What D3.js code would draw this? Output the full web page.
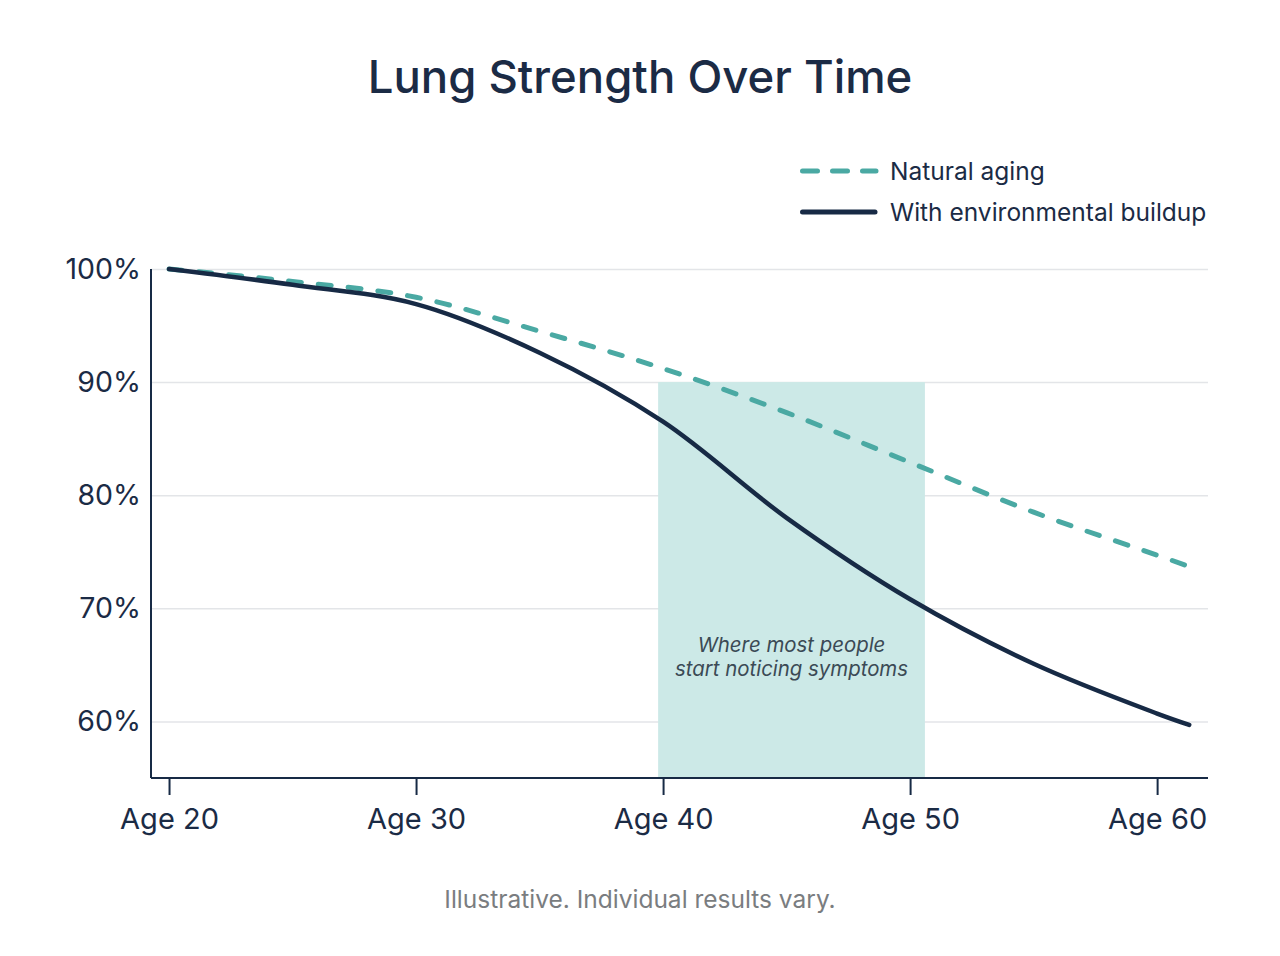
<!DOCTYPE html>
<html>
<head>
<meta charset="utf-8">
<script src="https://cdn.jsdelivr.net/npm/d3@7"></script>
<style>
  body { margin: 0; background: #fff; }
  text { font-family: Inter, "Noto Sans", sans-serif; }
</style>
</head>
<body>
<div id="chart"></div>
<script>
//// DATA ////
var ages = [20, 25, 30, 35, 40, 45, 50, 55, 60, 61.3];
var naturalAging = [100, 98.9, 97.5, 94.5, 91.2, 87.3, 82.9, 78.5, 74.7, 73.7];
var envBuildup = [100, 98.6, 96.9, 92.6, 86.5, 78.0, 70.8, 65.1, 60.7, 59.7];
var xTicks = [20, 30, 40, 50, 60];
var yTicks = [60, 70, 80, 90, 100];
var band = [39.8, 50.6];   // symptom zone, ages
var bandTop = 90;

//// SET UP ////
var svgWidth = 1280;
var svgHeight = 956;
var margin = { top: 269, right: 72, bottom: 178, left: 151 };
var width = svgWidth - margin.left - margin.right;
var height = svgHeight - margin.top - margin.bottom;

var navy = "#172a45";
var teal = "#4aa9a3";

var svg = d3.select("#chart")
  .append("svg")
  .attr("width", svgWidth)
  .attr("height", svgHeight);

var chartGroup = svg.append("g")
  .attr("transform", `translate(${margin.left}, ${margin.top})`);

var x = d3.scaleLinear().domain([19.27, 62.06]).range([0, width]);
var y = d3.scaleLinear().domain([55, 100]).range([height, 0]);

// title
svg.append("text")
  .attr("x", svgWidth / 2)
  .attr("y", 93)
  .attr("text-anchor", "middle")
  .attr("font-size", 45.5)
  .attr("font-weight", 500)
  .attr("fill", "#1b2b45")
  .text("Lung Strength Over Time");

// gridlines
chartGroup.append("g")
  .call(d3.axisLeft(y).tickValues(yTicks).tickSize(-width).tickFormat(""))
  .call(g => g.select(".domain").remove())
  .call(g => g.selectAll("line").attr("stroke", "#e3e5e8").attr("stroke-width", 1.5));

// shaded band
chartGroup.append("rect")
  .attr("x", x(band[0]))
  .attr("y", y(bandTop))
  .attr("width", x(band[1]) - x(band[0]))
  .attr("height", height - y(bandTop))
  .attr("fill", "#cce9e7");

var bandMid = (x(band[0]) + x(band[1])) / 2;
var note = chartGroup.append("text")
  .attr("text-anchor", "middle")
  .attr("font-size", 20.4)
  .attr("font-style", "italic")
  .attr("fill", "#3b4a55");
note.append("tspan").attr("x", bandMid).attr("y", 383).text("Where most people");
note.append("tspan").attr("x", bandMid).attr("y", 407).text("start noticing symptoms");

// lines
var line = d3.line()
  .x((d, i) => x(ages[i]))
  .y(d => y(d))
  .curve(d3.curveCatmullRom.alpha(0.5));

chartGroup.append("path")
  .datum(naturalAging)
  .attr("d", line)
  .attr("fill", "none")
  .attr("stroke", teal)
  .attr("stroke-width", 5)
  .attr("stroke-linecap", "round")
  .attr("stroke-dasharray", "13 17");

chartGroup.append("path")
  .datum(envBuildup)
  .attr("d", line)
  .attr("fill", "none")
  .attr("stroke", navy)
  .attr("stroke-width", 4.5)
  .attr("stroke-linecap", "round");

// axes
chartGroup.append("g")
  .attr("transform", `translate(0, ${height})`)
  .call(d3.axisBottom(x).tickValues(xTicks).tickSize(17).tickPadding(13).tickFormat(d => "Age " + d))
  .call(g => g.select(".domain").attr("d", `M0,0H${width}`).attr("stroke", navy).attr("stroke-width", 2))
  .call(g => g.selectAll(".tick line").attr("stroke", navy).attr("stroke-width", 2))
  .call(g => g.selectAll("text").attr("font-size", 29).attr("fill", "#1b2b45")
    .attr("font-family", "Inter, sans-serif"));

chartGroup.append("g")
  .call(d3.axisLeft(y).tickValues(yTicks).tickSize(0).tickPadding(10).tickFormat(d => d + "%"))
  .call(g => g.select(".domain").attr("d", `M0,0V${height}`).attr("stroke", navy).attr("stroke-width", 2))
  .call(g => g.selectAll("text").attr("font-size", 28.5).attr("fill", "#1b2b45")
    .attr("font-family", "Inter, sans-serif"));

// legend
var legend = svg.append("g").attr("transform", "translate(800, 0)");
legend.append("line")
  .attr("x1", 2.5).attr("x2", 76).attr("y1", 171).attr("y2", 171)
  .attr("stroke", teal).attr("stroke-width", 5)
  .attr("stroke-linecap", "round").attr("stroke-dasharray", "15 15");
legend.append("text")
  .attr("x", 90).attr("y", 179.5)
  .attr("font-size", 24.5).attr("fill", "#1b2b45")
  .text("Natural aging");
legend.append("line")
  .attr("x1", 2.5).attr("x2", 75).attr("y1", 212).attr("y2", 212)
  .attr("stroke", navy).attr("stroke-width", 5)
  .attr("stroke-linecap", "round");
legend.append("text")
  .attr("x", 90).attr("y", 220.5)
  .attr("font-size", 24.5).attr("fill", "#1b2b45")
  .text("With environmental buildup");

// footnote
svg.append("text")
  .attr("x", svgWidth / 2)
  .attr("y", 908)
  .attr("text-anchor", "middle")
  .attr("font-size", 24.5)
  .attr("fill", "#7a7d80")
  .text("Illustrative. Individual results vary.");
</script>
</body>
</html>
